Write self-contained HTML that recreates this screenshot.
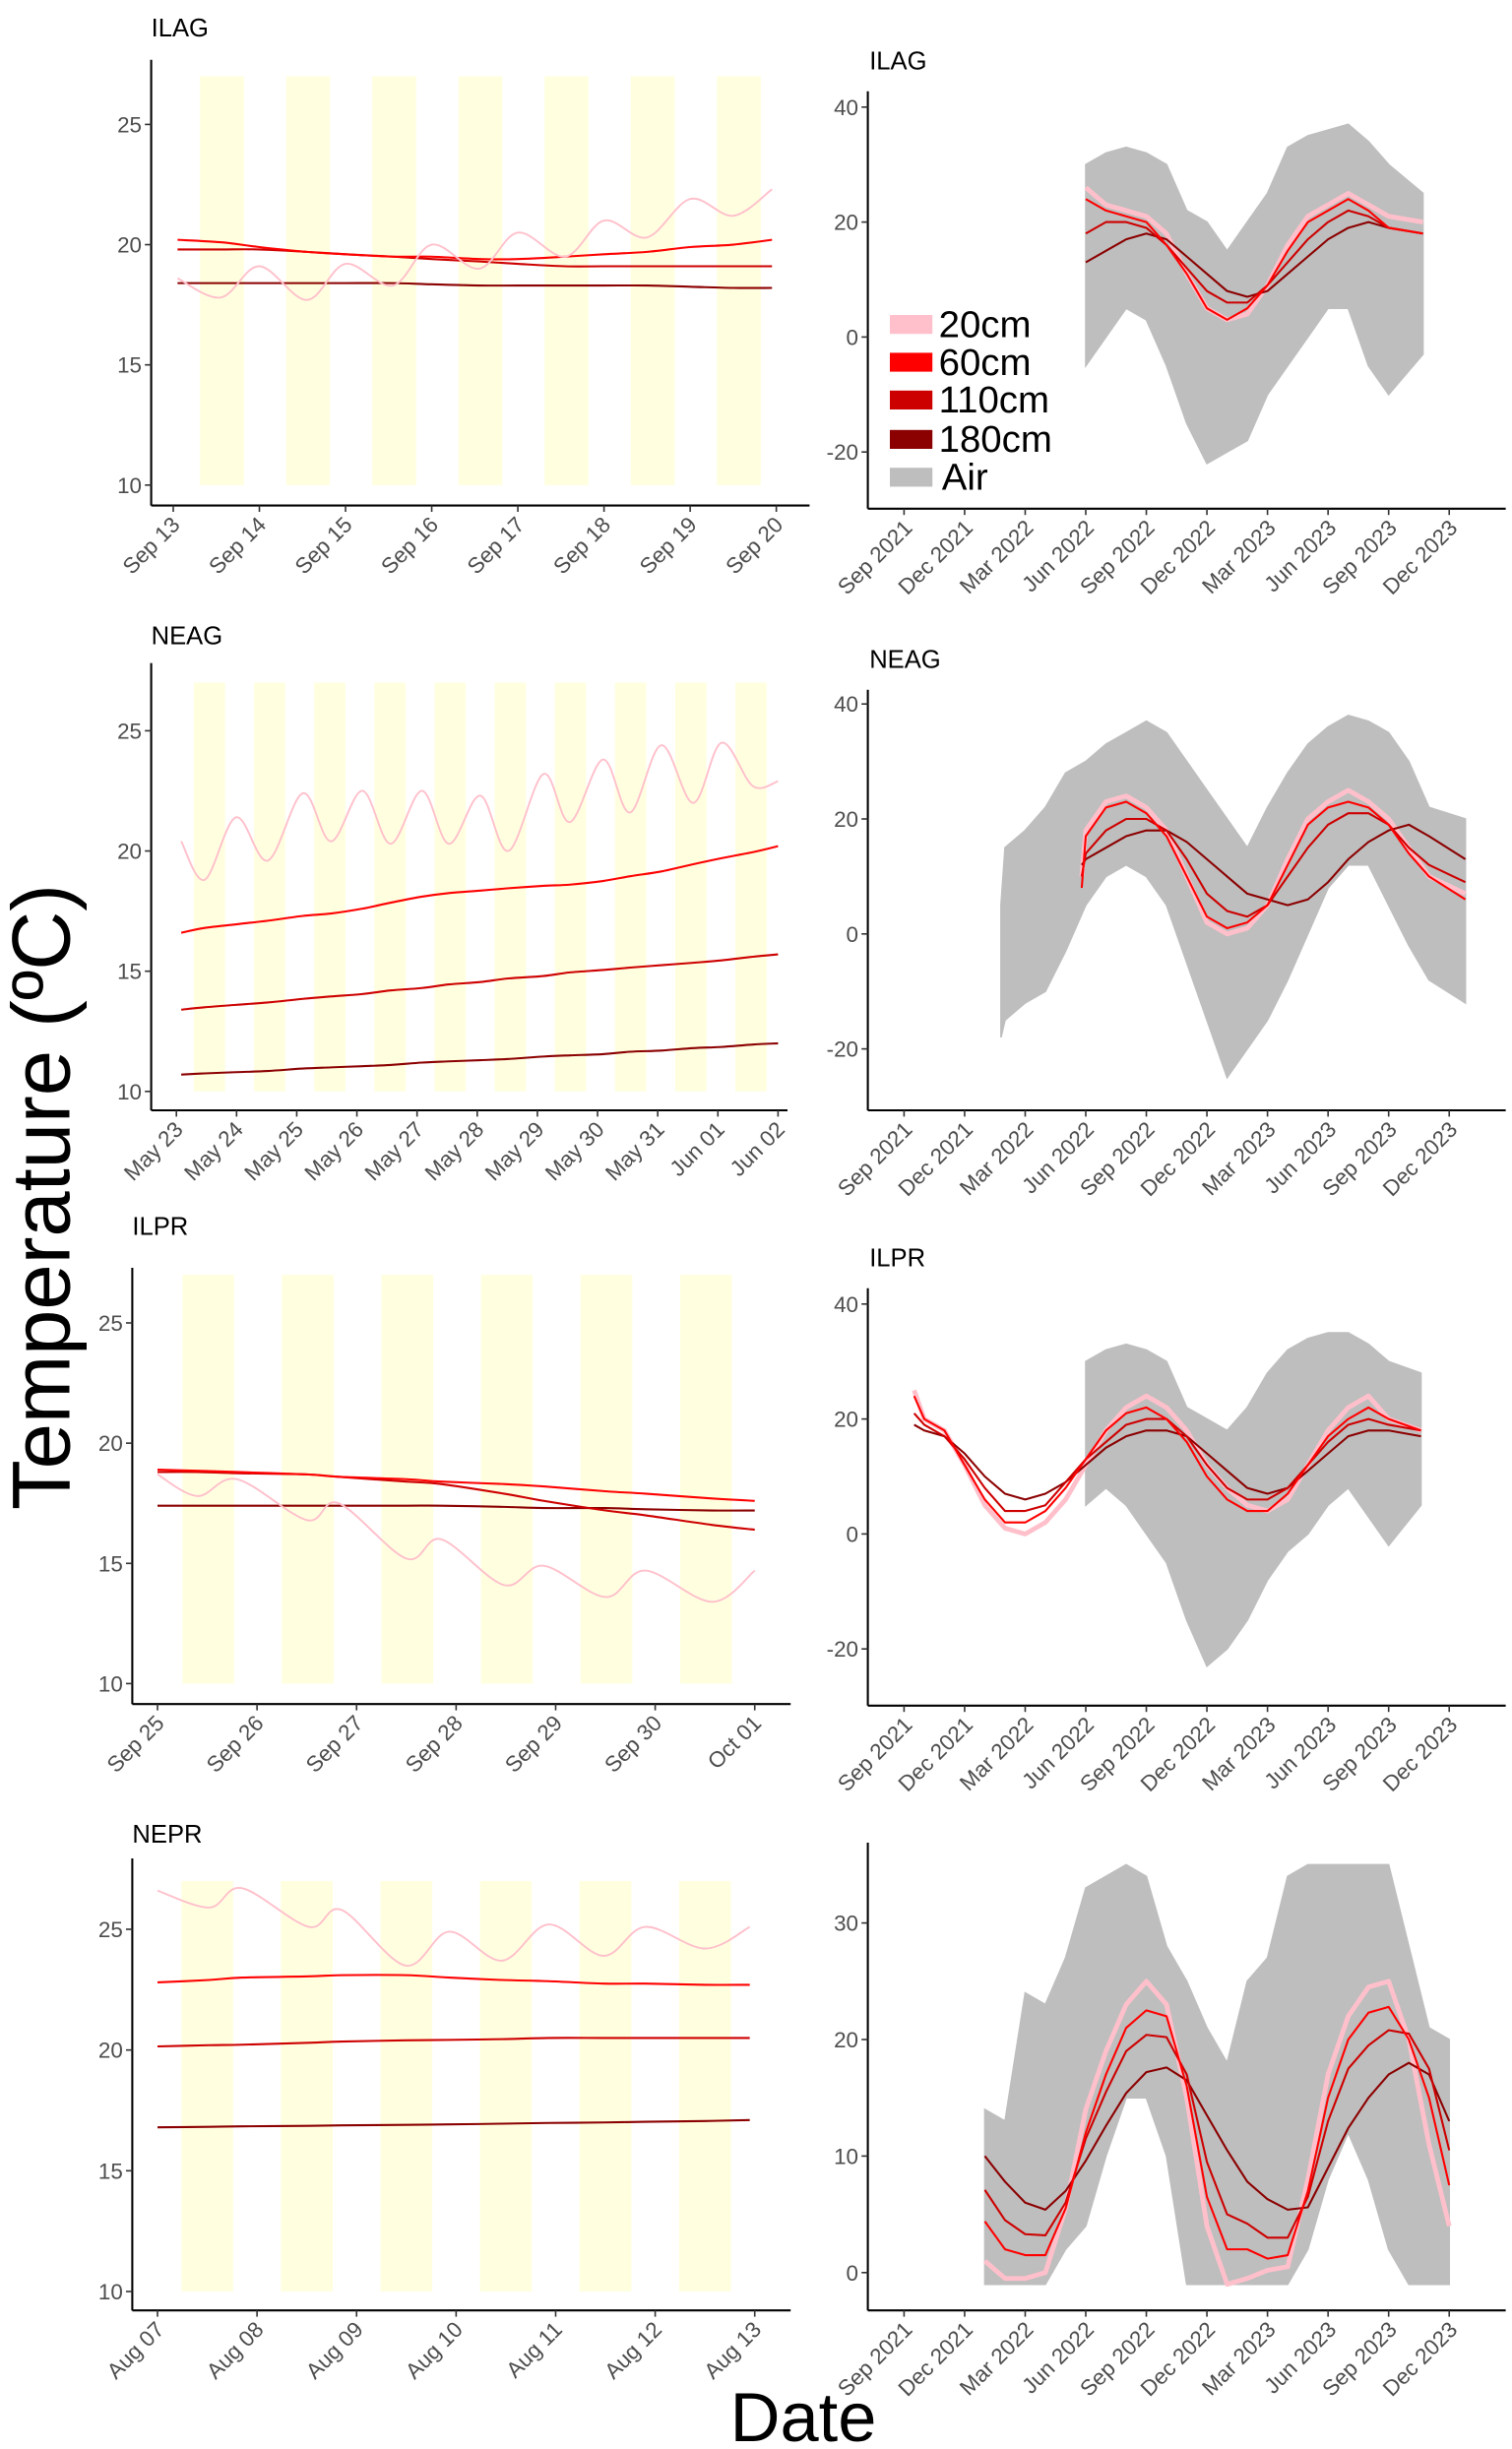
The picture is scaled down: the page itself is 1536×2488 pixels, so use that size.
<!DOCTYPE html>
<html><head><meta charset="utf-8"><title>Soil temperature</title>
<style>
html,body{margin:0;padding:0;background:#fff;}
svg{display:block;font-family:"Liberation Sans",Arial,sans-serif;}
</style></head>
<body>
<svg id="chart" xmlns="http://www.w3.org/2000/svg" width="1536" height="2488" viewBox="0 0 960 1555">
<rect width="960" height="1555" fill="#fff"/>
<text transform="translate(44,760) rotate(-90)" text-anchor="middle" font-size="52" fill="#000">Temperature (ºC)</text>
<text x="510" y="1550" text-anchor="middle" font-size="44" fill="#000">Date</text>
<g id="legend">
  <rect x="565" y="200" width="27" height="12" fill="#ffc0cb"/>
  <text x="596" y="214" font-size="24">20cm</text>
  <rect x="565" y="224" width="27" height="12" fill="#ff0000"/>
  <text x="596" y="238" font-size="24">60cm</text>
  <rect x="565" y="248" width="27" height="12" fill="#cd0000"/>
  <text x="596" y="262" font-size="24">110cm</text>
  <rect x="565" y="273" width="27" height="12" fill="#8b0000"/>
  <text x="596" y="287" font-size="24">180cm</text>
  <rect x="565" y="297" width="27" height="12" fill="#bebebe"/>
  <text x="598" y="311" font-size="24">Air</text>
</g>
</svg>
<script>
const ilagDayLabels = ["Sep 13","Sep 14","Sep 15","Sep 16","Sep 17","Sep 18","Sep 19","Sep 20"];
const ilagT = [0.05,0.55,1.0,1.55,2.0,2.55,3.0,3.55,4.0,4.55,5.0,5.5,6.0,6.5,6.95];
const ilag20 = [18.6,17.8,19.1,17.7,19.2,18.3,20.0,19.0,20.5,19.5,21.0,20.3,21.9,21.2,22.3];
const ilag60 = [20.2,20.1,19.9,19.7,19.6,19.5,19.5,19.4,19.4,19.5,19.6,19.7,19.9,20.0,20.2];
const ilag110 = [19.8,19.8,19.8,19.7,19.6,19.5,19.4,19.3,19.2,19.1,19.1,19.1,19.1,19.1,19.1];
const ilag180 = [18.4,18.4,18.4,18.4,18.4,18.4,18.35,18.3,18.3,18.3,18.3,18.3,18.25,18.2,18.2];

const neagDayLabels = ["May 23","May 24","May 25","May 26","May 27","May 28","May 29","May 30","May 31","Jun 01","Jun 02"];
const neagT = [0.08,0.47,0.99,1.52,2.1,2.57,3.09,3.56,4.08,4.53,5.05,5.52,6.1,6.54,7.09,7.54,8.06,8.59,9.06,9.58,10.0];
const neag20 = [20.4,18.8,21.4,19.6,22.4,20.4,22.5,20.3,22.5,20.3,22.3,20.0,23.2,21.2,23.8,21.6,24.4,22.0,24.5,22.7,22.9];
const neag60 = [16.6,16.8,16.95,17.1,17.3,17.4,17.6,17.85,18.1,18.25,18.35,18.45,18.55,18.6,18.75,18.95,19.15,19.45,19.7,19.95,20.2];
const neag110 = [13.4,13.5,13.6,13.7,13.85,13.95,14.05,14.2,14.3,14.45,14.55,14.7,14.8,14.95,15.05,15.15,15.25,15.35,15.45,15.6,15.7];
const neag180 = [10.7,10.75,10.8,10.85,10.95,11.0,11.05,11.1,11.2,11.25,11.3,11.35,11.45,11.5,11.55,11.65,11.7,11.8,11.85,11.95,12.0];

const ilprDayLabels = ["Sep 25","Sep 26","Sep 27","Sep 28","Sep 29","Sep 30","Oct 01"];
const ilprT = [0,0.4,0.8,1.5,1.82,2.5,2.85,3.48,3.88,4.5,4.9,5.57,6.0];
const ilpr20 = [18.7,17.8,18.5,16.8,17.5,15.2,16.0,14.1,14.9,13.6,14.7,13.4,14.7];
const ilpr60 = [18.9,18.85,18.8,18.7,18.6,18.5,18.4,18.3,18.2,18.0,17.9,17.7,17.6];
const ilpr110 = [18.8,18.8,18.75,18.7,18.6,18.4,18.3,17.9,17.6,17.2,17.0,16.6,16.4];
const ilpr180 = [17.4,17.4,17.4,17.4,17.4,17.4,17.4,17.35,17.3,17.3,17.25,17.2,17.2];

const neprDayLabels = ["Aug 07","Aug 08","Aug 09","Aug 10","Aug 11","Aug 12","Aug 13"];
const neprT = [0,0.52,0.85,1.52,1.85,2.49,2.93,3.46,3.93,4.48,4.9,5.5,5.95];
const nepr20 = [26.6,25.9,26.7,25.1,25.8,23.5,24.9,23.7,25.2,23.9,25.1,24.2,25.1];
const nepr60 = [22.8,22.9,23.0,23.05,23.1,23.1,23.0,22.9,22.85,22.75,22.75,22.7,22.7];
const nepr110 = [20.15,20.2,20.22,20.3,20.35,20.4,20.42,20.45,20.5,20.5,20.5,20.5,20.5];
const nepr180 = [16.8,16.82,16.84,16.86,16.88,16.9,16.92,16.95,16.98,17.0,17.03,17.06,17.1];

const leftYTicks = [10,15,20,25];

const monthLabels = ["Sep 2021","Dec 2021","Mar 2022","Jun 2022","Sep 2022","Dec 2022","Mar 2023","Jun 2023","Sep 2023","Dec 2023"];
const monthTickPos = [0,3,6,9,12,15,18,21,24,27];

const rIlagT = [9,10,11,12,13,14,15,16,17,18,19,20,21,22,23,24,25.7];
const rIlagAirMax = [30,32,33,32,30,22,20,15,20,25,33,35,36,37,34,30,25];
const rIlagAirMin = [-5,0,5,3,-5,-15,-22,-20,-18,-10,-5,0,5,5,-5,-10,-3];
const rIlag20 = [26,23,22,21,18,11,5,3,4,9,16,21,23,25,23,21,20];
const rIlag60 = [24,22,21,20,16,11,5,3,5,9,15,20,22,24,22,19,18];
const rIlag110 = [18,20,20,19,16,12,8,6,6,9,13,17,20,22,21,19,18];
const rIlag180 = [13,15,17,18,17,14,11,8,7,8,11,14,17,19,20,19,18];

const rNeagAirT = [4.8,5,6,7,8,9,10,11,12,13,14,15,16,17,18,19,20,21,22,23,24,25,26,27.8];
const rNeagAirMax = [5,15,18,22,28,30,33,35,37,35,30,25,20,15,22,28,33,36,38,37,35,30,22,20];
const rNeagAirMin = [-18,-15,-12,-10,-3,5,10,12,10,5,-5,-15,-25,-20,-15,-8,0,8,12,12,5,-2,-8,-12];
const rNeagT = [8.8,9,10,11,12,13,14,15,16,17,18,19,20,21,22,23,24,25,26,27.8];
const rNeag20 = [10,18,23,24,22,18,10,2,0,1,5,13,20,23,25,23,20,15,10,7];
const rNeag60 = [8,17,22,23,21,17,10,3,1,2,5,12,19,22,23,22,19,14,10,6];
const rNeag110 = [10,14,18,20,20,18,13,7,4,3,5,10,15,19,21,21,19,15,12,9];
const rNeag180 = [12,13,15,17,18,18,16,13,10,7,6,5,6,9,13,16,18,19,17,13];

const rIlprT = [0.5,1,2,3,4,5,6,7,8,9,10,11,12,13,14,15,16,17,18,19,20,21,22,23,24,25.6];
const rIlpr20 = [25,20,18,12,5,1,0,2,6,12,18,22,24,22,18,12,8,5,4,6,12,18,22,24,20,18];
const rIlpr60 = [24,20,18,12,6,2,2,4,8,13,18,21,22,20,16,10,6,4,4,7,12,17,20,22,20,18];
const rIlpr110 = [21,19,17,13,8,4,4,5,9,13,16,19,20,20,17,12,8,6,6,8,12,16,19,20,19,18];
const rIlpr180 = [19,18,17,14,10,7,6,7,9,12,15,17,18,18,17,14,11,8,7,8,11,14,17,18,18,17];
const rIlprAirT = [9,10,11,12,13,14,15,16,17,18,19,20,21,22,23,24,25.6];
const rIlprAirMax = [30,32,33,32,30,22,20,18,22,28,32,34,35,35,33,30,28];
const rIlprAirMin = [5,8,5,0,-5,-15,-23,-20,-15,-8,-3,0,5,8,3,-2,5];

const rNeprT = [4,5,6,7,8,9,10,11,12,13,14,15,16,17,18,19,20,21,22,23,24,25,26,27];
const rNepr20 = [1.0,-0.5,-0.5,0,5.5,14,19,23,25,23,15,4,-1,-0.5,0.2,0.5,8,17,22,24.5,25,20,11,4];
const rNepr60 = [4.4,2.0,1.5,1.5,5.5,12.0,17.0,21.0,22.5,22.0,16.0,6.5,2.0,2.0,1.2,1.5,7.0,15.0,20.0,22.3,22.8,20.0,15.0,7.5];
const rNepr110 = [7.1,4.5,3.3,3.2,6.0,11.5,15.5,19.0,20.4,20.2,17.0,9.5,5.0,4.2,3.0,3.0,6.5,13.0,17.5,19.5,20.8,20.5,17.5,10.5];
const rNepr180 = [10.0,7.8,6.0,5.4,7.0,9.6,12.6,15.4,17.2,17.6,16.5,13.5,10.5,7.8,6.3,5.4,5.6,9.0,12.4,15.0,17.0,18.0,17.0,13.0];
const rNeprAirMax = [14,13,24,23,27,33,34,35,34,28,25,21,18,25,27,34,35,35,35,35,35,28,21,20];
const rNeprAirMin = [-1,-1,-1,-1,2,4,10,15,15,10,-1,-1,-1,-1,-1,-1,2,8,12,8,2,-1,-1,-1];

const COL20 = "#ffc0cb", COL60 = "#ff0000", COL110 = "#cd0000", COL180 = "#8b0000", COLAIR = "#bebebe";
const NS = "http://www.w3.org/2000/svg";
const svg = document.getElementById("chart");
const legendNode = document.getElementById("legend");

function mk(tag, attrs, parent) {
  const e = document.createElementNS(NS, tag);
  for (const k in attrs) e.setAttribute(k, attrs[k]);
  (parent || svg).insertBefore(e, parent ? null : legendNode);
  return e;
}
function smoothPath(xs, ys) {
  let d = "M" + xs[0].toFixed(2) + "," + ys[0].toFixed(2);
  for (let i = 0; i < xs.length - 1; i++) {
    const x0 = xs[Math.max(i - 1, 0)], y0 = ys[Math.max(i - 1, 0)];
    const x1 = xs[i], y1 = ys[i], x2 = xs[i + 1], y2 = ys[i + 1];
    const x3 = xs[Math.min(i + 2, xs.length - 1)], y3 = ys[Math.min(i + 2, xs.length - 1)];
    const c1x = x1 + (x2 - x0) / 6, c1y = y1 + (y2 - y0) / 6;
    const c2x = x2 - (x3 - x1) / 6, c2y = y2 - (y3 - y1) / 6;
    d += "C" + c1x.toFixed(2) + "," + c1y.toFixed(2) + " " + c2x.toFixed(2) + "," + c2y.toFixed(2) + " " + x2.toFixed(2) + "," + y2.toFixed(2);
  }
  return d;
}
function linePath(xs, ys) {
  return xs.map((x, i) => (i ? "L" : "M") + x.toFixed(2) + "," + ys[i].toFixed(2)).join("");
}

function leftPanel(cfg) {
  const g = mk("g", {});
  
  
  const sx = d => cfg.x0 + d * cfg.dx;
  const sy = v => cfg.y10 + (v - 10) * (cfg.y25 - cfg.y10) / 15;
  for (let d = 0; d < cfg.labels.length - 1; d++) {
    const r = mk("rect", {x: sx(d + cfg.bOff), y: sy(27), width: cfg.bW * cfg.dx, height: sy(10) - sy(27), fill: "#ffffe0"}, g);
    
    
  }
  const series = [[cfg.s180, COL180, "180cm"], [cfg.s110, COL110, "110cm"], [cfg.s60, COL60, "60cm"], [cfg.s20, COL20, "20cm"]];
  series.forEach(s => {
    const p = mk("path", {d: smoothPath(cfg.t.map(sx), s[0].map(sy)), fill: "none", stroke: s[1], "stroke-width": s[2] === "20cm" ? 1.2 : 1.3}, g);
    
    
  });
  const ya = mk("line", {x1: cfg.ax, x2: cfg.ax, y1: cfg.top, y2: cfg.bottom, stroke: "#000", "stroke-width": 1.3}, g);
  
  
  const xa = mk("line", {x1: cfg.ax, x2: cfg.right, y1: cfg.bottom, y2: cfg.bottom, stroke: "#000", "stroke-width": 1.3}, g);
  
  
  leftYTicks.forEach(v => {
    const tk = mk("line", {x1: cfg.ax - 4, x2: cfg.ax, y1: sy(v), y2: sy(v), stroke: "#333", "stroke-width": 1}, g);
    
    
    const tl = mk("text", {x: cfg.ax - 6, y: sy(v) + 5, "text-anchor": "end", "font-size": 14, fill: "#4d4d4d"}, g);
    tl.textContent = v;
    
    
  });
  cfg.labels.forEach((lab, i) => {
    const x = sx(i);
    const tk = mk("line", {x1: x, x2: x, y1: cfg.bottom, y2: cfg.bottom + 4, stroke: "#333", "stroke-width": 1}, g);
    
    
    const tl = mk("text", {transform: "translate(" + (x + 5) + "," + (cfg.bottom + 13) + ") rotate(-45)", "text-anchor": "end", "font-size": 14, fill: "#4d4d4d"}, g);
    tl.textContent = lab;
    
    
  });
  const tt = mk("text", {x: cfg.ax, y: cfg.titleY, "font-size": 16, fill: "#000"}, g);
  tt.textContent = cfg.name;
  
  
}

function rightPanel(cfg) {
  const g = mk("g", {});
  
  
  const sx = m => 574 + m * 12.82;
  const sy = v => cfg.yA + (v - cfg.vA) * (cfg.yB - cfg.yA) / (cfg.vB - cfg.vA);
  const upper = cfg.airT.map((t, i) => sx(t).toFixed(2) + "," + sy(cfg.airMax[i]).toFixed(2));
  const lower = cfg.airT.map((t, i) => sx(t).toFixed(2) + "," + sy(cfg.airMin[i]).toFixed(2)).reverse();
  const air = mk("polygon", {points: upper.concat(lower).join(" "), fill: COLAIR, stroke: COLAIR, "stroke-width": 1}, g);
  
  
  const series = [[cfg.s20, COL20, "20cm", 3], [cfg.s180, COL180, "180cm", 1.3], [cfg.s110, COL110, "110cm", 1.3], [cfg.s60, COL60, "60cm", 1.3]];
  series.forEach(s => {
    const p = mk("path", {d: linePath(cfg.t.map(sx), s[0].map(sy)), fill: "none", stroke: s[1], "stroke-width": s[3], "stroke-linejoin": "round"}, g);
    
    
  });
  const ya = mk("line", {x1: 551, x2: 551, y1: cfg.top, y2: cfg.bottom, stroke: "#000", "stroke-width": 1.3}, g);
  
  
  const xa = mk("line", {x1: 551, x2: 956, y1: cfg.bottom, y2: cfg.bottom, stroke: "#000", "stroke-width": 1.3}, g);
  
  
  cfg.ticks.forEach(v => {
    const tk = mk("line", {x1: 547, x2: 551, y1: sy(v), y2: sy(v), stroke: "#333", "stroke-width": 1}, g);
    
    
    const tl = mk("text", {x: 545, y: sy(v) + 5, "text-anchor": "end", "font-size": 14, fill: "#4d4d4d"}, g);
    tl.textContent = v;
    
    
  });
  monthLabels.forEach((lab, i) => {
    const x = sx(monthTickPos[i]);
    const tk = mk("line", {x1: x, x2: x, y1: cfg.bottom, y2: cfg.bottom + 4, stroke: "#333", "stroke-width": 1}, g);
    
    
    const tl = mk("text", {transform: "translate(" + (x + 6) + "," + (cfg.bottom + 13) + ") rotate(-45)", "text-anchor": "end", "font-size": 14, fill: "#4d4d4d"}, g);
    tl.textContent = lab;
    
    
  });
  if (cfg.name) {
    const tt = mk("text", {x: 552, y: cfg.titleY, "font-size": 16, fill: "#000"}, g);
    tt.textContent = cfg.name;
    
    
  }
}

leftPanel({name: "ILAG", labels: ilagDayLabels, t: ilagT, s20: ilag20, s60: ilag60, s110: ilag110, s180: ilag180,
  x0: 110, dx: 54.7, bOff: 0.31, bW: 0.51, y25: 79, y10: 308, ax: 96, top: 38, bottom: 321, right: 514, titleY: 23});
leftPanel({name: "NEAG", labels: neagDayLabels, t: neagT, s20: neag20, s60: neag60, s110: neag110, s180: neag180,
  x0: 112, dx: 38.2, bOff: 0.29, bW: 0.52, y25: 464, y10: 693, ax: 96, top: 421, bottom: 705, right: 500, titleY: 409});
leftPanel({name: "ILPR", labels: ilprDayLabels, t: ilprT, s20: ilpr20, s60: ilpr60, s110: ilpr110, s180: ilpr180,
  x0: 100, dx: 63.2, bOff: 0.25, bW: 0.52, y25: 840, y10: 1069, ax: 84, top: 805, bottom: 1082, right: 502, titleY: 784});
leftPanel({name: "NEPR", labels: neprDayLabels, t: neprT, s20: nepr20, s60: nepr60, s110: nepr110, s180: nepr180,
  x0: 100, dx: 63.2, bOff: 0.24, bW: 0.52, y25: 1225, y10: 1455, ax: 84, top: 1180, bottom: 1467, right: 502, titleY: 1170});

rightPanel({name: "ILAG", t: rIlagT, s20: rIlag20, s60: rIlag60, s110: rIlag110, s180: rIlag180,
  airT: rIlagT, airMax: rIlagAirMax, airMin: rIlagAirMin, vA: 40, yA: 68, vB: -20, yB: 287, ticks: [-20,0,20,40], top: 58, bottom: 323, titleY: 44});
rightPanel({name: "NEAG", t: rNeagT, s20: rNeag20, s60: rNeag60, s110: rNeag110, s180: rNeag180,
  airT: rNeagAirT, airMax: rNeagAirMax, airMin: rNeagAirMin, vA: 40, yA: 447, vB: -20, yB: 666, ticks: [-20,0,20,40], top: 438, bottom: 705, titleY: 424});
rightPanel({name: "ILPR", t: rIlprT, s20: rIlpr20, s60: rIlpr60, s110: rIlpr110, s180: rIlpr180,
  airT: rIlprAirT, airMax: rIlprAirMax, airMin: rIlprAirMin, vA: 40, yA: 828, vB: -20, yB: 1047, ticks: [-20,0,20,40], top: 818, bottom: 1083, titleY: 804});
rightPanel({name: "", t: rNeprT, s20: rNepr20, s60: rNepr60, s110: rNepr110, s180: rNepr180,
  airT: rNeprT, airMax: rNeprAirMax, airMin: rNeprAirMin, vA: 30, yA: 1221, vB: 0, yB: 1443, ticks: [0,10,20,30], top: 1170, bottom: 1467, titleY: 1160});
</script>
</body></html>
